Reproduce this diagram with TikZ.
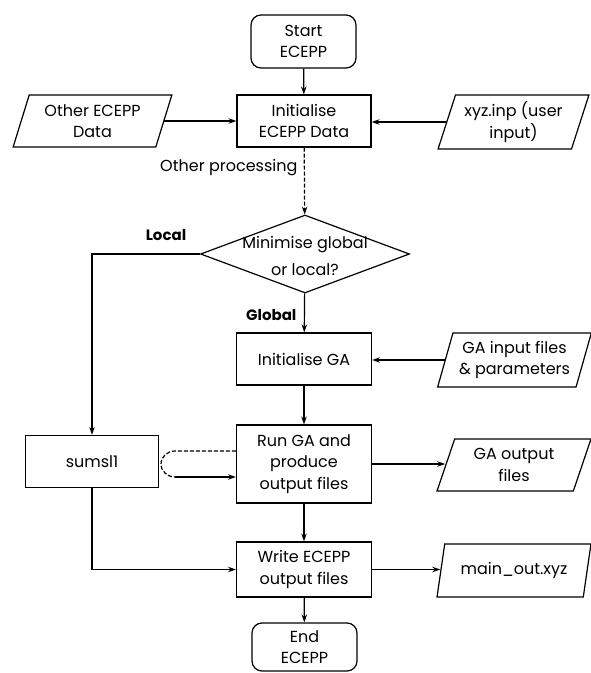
\documentclass[tikz,border=0pt]{standalone}
\usepackage{fontspec}
\setmainfont{Poppins}
\usetikzlibrary{shapes.geometric,arrows.meta}
\begin{document}
\begin{tikzpicture}[x=1pt,y=-1pt,
  font=\fontsize{16}{21.5}\selectfont,
  line width=1.2pt,
  box/.style={draw, rectangle, minimum width=135pt, align=center, inner sep=2pt},
  term/.style={draw, rectangle, rounded corners=10pt, minimum width=105pt, align=center, inner sep=2pt},
  io/.style={draw, trapezium, trapezium left angle=70, trapezium right angle=110,
    trapezium stretches=true, minimum width=154pt, align=center, inner sep=0pt},
  decision/.style={draw, diamond, minimum width=209pt, minimum height=78pt, inner sep=0pt},
  lbl/.style={inner sep=1pt},
  arr/.style={-{Stealth[length=8pt,width=5.5pt]}},
  dsh/.style={dash pattern=on 4pt off 2pt}]
\useasboundingbox (0,0) rectangle (591,673);
% nodes
\node[term, minimum height=53pt] (start) at (303.5,41.5) {Start\\ECEPP};
\node[box, minimum height=52pt, minimum width=134pt] (init) at (304,121) {Initialise\\ECEPP Data};
\node[io, minimum height=52pt, minimum width=159pt] (other) at (92.5,121) {Other ECEPP\\Data};
\node[io, minimum height=54pt, minimum width=151pt] (xyz) at (513.5,122) {xyz.inp (user\\input)};
\node[lbl, anchor=east] (op) at (299,168) {Other processing};
\node[decision] (dec) at (305,254) {};
\node[lbl, align=center, font=\fontsize{16}{27}\selectfont] (dectxt) at (305,256) {Minimise global\\or local?};
\node[lbl, font=\fontsize{15}{20}\selectfont\bfseries] (local) at (166,235) {Local};
\node[lbl, anchor=east, font=\fontsize{15}{20}\selectfont\bfseries] (global) at (298,315) {Global};
\node[box, minimum height=52pt] (initga) at (304,359) {Initialise GA};
\node[io, minimum height=54pt] (gain) at (514.5,360) {GA input files\\\& parameters};
\node[box, minimum height=78pt] (run) at (304,464) {Run GA and\\produce\\output files};
\node[box, minimum height=52pt, minimum width=133pt] (sumsl) at (92,461.5) {sumsl1};
\node[io, minimum height=52pt] (gaout) at (514,465) {GA output\\files};
\node[box, minimum height=55pt] (write) at (304,569.5) {Write ECEPP\\output files};
\node[io, minimum height=53pt] (mainout) at (514,570.5) {main\_out.xyz};
\node[term, minimum height=48pt] (end) at (304.5,647) {End\\ECEPP};
% connectors
\draw[arr] (start) -- (init);
\draw[arr] (other.east) -- (other.east -| init.west);
\draw[arr] (xyz.west) -- (xyz.west -| init.east);
\draw[arr, dsh] (init) -- (dec);
\draw[arr] (dec.west) -| (sumsl.north);
\draw[arr] (dec) -- (initga);
\draw[arr] (gain.west) -- (gain.west -| initga.east);
\draw[arr] (initga) -- (run);
\draw[arr] (run.east) -- (run.east -| gaout.west);
\draw[arr] (run) -- (write);
\draw[arr] (write.east) -- (write.east -| mainout.west);
\draw[arr] (write) -- (end);
\draw[arr] (sumsl.south) |- (write.west);
\coordinate (la) at (175,451);
\coordinate (lb) at (161,464);
\coordinate (lc) at (175,477);
\draw[dsh] (run.west |- la) -- (la) to[out=180,in=90] (lb) to[out=-90,in=180] (lc);
\draw[arr] (lc) -- (run.west |- lc);
\end{tikzpicture}
\end{document}
